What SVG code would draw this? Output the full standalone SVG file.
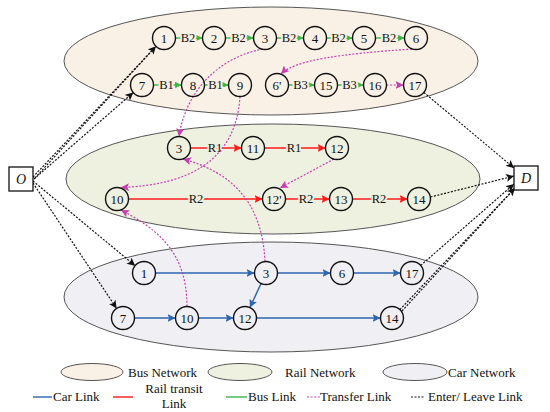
<svg xmlns="http://www.w3.org/2000/svg" width="550" height="412" viewBox="0 0 550 412">
<style>
text{font-family:"Liberation Serif","Times New Roman",serif;fill:#111}
.n circle{fill:none;stroke:#111;stroke-width:1.4}
.n text{font-size:13px;text-anchor:middle;dominant-baseline:central}
.net{stroke:#555;stroke-width:1}
.bus{fill:#FAF1E6}
.rail{fill:#EEF0E0}
.car{fill:#F0EFF3}
.lb{font-size:12.5px;text-anchor:middle;dominant-baseline:central;paint-order:stroke;stroke-width:4;fill:#111}
.lbb{stroke:#FAF1E6}
.lbr{stroke:#EEF0E0}
.g{stroke:#3DB54A;stroke-width:1.4;fill:none}
.r{stroke:#FF1A1A;stroke-width:1.4;fill:none}
.bl{stroke:#2E66B0;stroke-width:1.4;fill:none}
.t{stroke:#C63FB2;stroke-width:1.2;stroke-dasharray:2 1.6;fill:none}
.e{stroke:#111;stroke-width:1.2;stroke-dasharray:2 1.5;fill:none}
.leg{font-size:13px}
</style>
<defs>
<marker id="ag" viewBox="0 0 10 10" refX="10" refY="5" markerWidth="7" markerHeight="7" markerUnits="userSpaceOnUse" orient="auto"><path d="M0,0 L10,5 L0,10 z" fill="#3DB54A"/></marker>
<marker id="ar" viewBox="0 0 10 10" refX="10" refY="5" markerWidth="8" markerHeight="8" markerUnits="userSpaceOnUse" orient="auto"><path d="M0,0 L10,5 L0,10 L2,5 z" fill="#FF1A1A"/></marker>
<marker id="ab" viewBox="0 0 10 10" refX="10" refY="5" markerWidth="8" markerHeight="8" markerUnits="userSpaceOnUse" orient="auto"><path d="M0,0 L10,5 L0,10 L2,5 z" fill="#2E66B0"/></marker>
<marker id="at" viewBox="0 0 10 10" refX="10" refY="5" markerWidth="8" markerHeight="8" markerUnits="userSpaceOnUse" orient="auto"><path d="M0,0 L10,5 L0,10 L2,5 z" fill="#C63FB2"/></marker>
<marker id="ae" viewBox="0 0 10 10" refX="10" refY="5" markerWidth="8" markerHeight="8" markerUnits="userSpaceOnUse" orient="auto"><path d="M0,0 L10,5 L0,10 L2.5,5 z" fill="#111"/></marker>
</defs>

<g id="networks">
<ellipse class="net bus" cx="271" cy="61" rx="207" ry="54"/>
<ellipse class="net rail" cx="273" cy="179" rx="207" ry="55"/>
<ellipse class="net car" cx="271" cy="297" rx="207" ry="55"/>
</g>

<g id="connectors">
<!-- bus links -->
<line class="g" x1="175.5" y1="38" x2="202.5" y2="38" marker-end="url(#ag)"/>
<line class="g" x1="225.5" y1="38" x2="253.5" y2="38" marker-end="url(#ag)"/>
<line class="g" x1="276.5" y1="38" x2="303.5" y2="38" marker-end="url(#ag)"/>
<line class="g" x1="326.5" y1="38" x2="352.5" y2="38" marker-end="url(#ag)"/>
<line class="g" x1="375.5" y1="38" x2="404.5" y2="38" marker-end="url(#ag)"/>
<line class="g" x1="153.5" y1="85" x2="181.5" y2="85" marker-end="url(#ag)"/>
<line class="g" x1="204.5" y1="85" x2="228.5" y2="85" marker-end="url(#ag)"/>
<line class="g" x1="288.5" y1="85" x2="314.5" y2="85" marker-end="url(#ag)"/>
<line class="g" x1="337.5" y1="85" x2="363.5" y2="85" marker-end="url(#ag)"/>
<text class="lb lbb" x="188" y="38">B2</text>
<text class="lb lbb" x="238.5" y="38">B2</text>
<text class="lb lbb" x="289" y="38">B2</text>
<text class="lb lbb" x="338.5" y="38">B2</text>
<text class="lb lbb" x="389" y="38">B2</text>
<text class="lb lbb" x="166.5" y="85">B1</text>
<text class="lb lbb" x="215.5" y="85">B1</text>
<text class="lb lbb" x="300.5" y="85">B3</text>
<text class="lb lbb" x="349.5" y="85">B3</text>
<line class="t" x1="386.5" y1="85" x2="403.5" y2="85" marker-end="url(#at)"/>
<!-- rail links -->
<line class="r" x1="190.5" y1="148" x2="241.5" y2="148" marker-end="url(#ar)"/>
<line class="r" x1="264.5" y1="148" x2="325.5" y2="148" marker-end="url(#ar)"/>
<line class="r" x1="128.5" y1="199" x2="262.5" y2="199" marker-end="url(#ar)"/>
<line class="r" x1="285.5" y1="199" x2="329.5" y2="199" marker-end="url(#ar)"/>
<line class="r" x1="352.5" y1="199" x2="407.5" y2="199" marker-end="url(#ar)"/>
<text class="lb lbr" x="215" y="148">R1</text>
<text class="lb lbr" x="294" y="148">R1</text>
<text class="lb lbr" x="196" y="199">R2</text>
<text class="lb lbr" x="306" y="199">R2</text>
<text class="lb lbr" x="379" y="199">R2</text>
<!-- car links -->
<line class="bl" x1="155.5" y1="273" x2="254.5" y2="273" marker-end="url(#ab)"/>
<line class="bl" x1="277.5" y1="273" x2="330.5" y2="273" marker-end="url(#ab)"/>
<line class="bl" x1="353.5" y1="273" x2="400.5" y2="273" marker-end="url(#ab)"/>
<line class="bl" x1="134.5" y1="318" x2="175.5" y2="318" marker-end="url(#ab)"/>
<line class="bl" x1="198.5" y1="318" x2="233.5" y2="318" marker-end="url(#ab)"/>
<line class="bl" x1="256.5" y1="318" x2="380.5" y2="318" marker-end="url(#ab)"/>
<line class="bl" x1="261.1" y1="283.4" x2="249.9" y2="307.6" marker-end="url(#ab)"/>
<!-- transfer links -->
<path class="t" d="M263,49 C215,58 185,95 179,136.5" marker-end="url(#at)"/>
<path class="t" d="M412,49 C340,54 295,60 281,74" marker-end="url(#at)"/>
<path class="t" d="M240,96.5 C236,160 190,185 121,187.5" marker-end="url(#at)"/>
<path class="t" d="M265,261.5 C262,200 230,172 183,159" marker-end="url(#at)"/>
<path class="t" d="M334,159 L280,188" marker-end="url(#at)"/>
<path class="t" d="M187,306.5 C187,250 155,228 121,210" marker-end="url(#at)"/>
<!-- enter / leave links -->
<line class="e" x1="33" y1="177" x2="156" y2="46.3" marker-end="url(#ae)"/>
<line class="e" x1="35" y1="178" x2="156" y2="46.3"/>
<line class="e" x1="34" y1="179" x2="133.3" y2="92.5" marker-end="url(#ae)"/>
<line class="e" x1="33" y1="181" x2="135.1" y2="265.7" marker-end="url(#ae)"/>
<line class="e" x1="33" y1="183" x2="116.6" y2="308.4" marker-end="url(#ae)"/>
<line class="e" x1="423.8" y1="92.4" x2="514" y2="168" marker-end="url(#ae)"/>
<line class="e" x1="430.5" y1="197" x2="514" y2="176" marker-end="url(#ae)"/>
<line class="e" x1="420.7" y1="265.4" x2="514" y2="184" marker-end="url(#ae)"/>
<line class="e" x1="399.9" y1="309.6" x2="515" y2="188" marker-end="url(#ae)"/>
<line class="e" x1="402" y1="311" x2="515" y2="188"/>
</g>

<g id="O"><rect x="9" y="167" width="24" height="24" fill="#fff" stroke="#111" stroke-width="1.3"/><text x="21" y="179" font-size="14" font-style="italic" text-anchor="middle" dominant-baseline="central">O</text></g>
<g id="D"><rect x="514" y="166" width="24" height="24" fill="#fff" stroke="#111" stroke-width="1.3"/><text x="526" y="178" font-size="14" font-style="italic" text-anchor="middle" dominant-baseline="central">D</text></g>

<g id="bus1" class="n"><circle cx="164" cy="38" r="11.5"/><text x="164" y="38">1</text></g>
<g id="bus2" class="n"><circle cx="214" cy="38" r="11.5"/><text x="214" y="38">2</text></g>
<g id="bus3" class="n"><circle cx="265" cy="38" r="11.5"/><text x="265" y="38">3</text></g>
<g id="bus4" class="n"><circle cx="315" cy="38" r="11.5"/><text x="315" y="38">4</text></g>
<g id="bus5" class="n"><circle cx="364" cy="38" r="11.5"/><text x="364" y="38">5</text></g>
<g id="bus6" class="n"><circle cx="416" cy="38" r="11.5"/><text x="416" y="38">6</text></g>
<g id="bus7" class="n"><circle cx="142" cy="85" r="11.5"/><text x="142" y="85">7</text></g>
<g id="bus8" class="n"><circle cx="193" cy="85" r="11.5"/><text x="193" y="85">8</text></g>
<g id="bus9" class="n"><circle cx="240" cy="85" r="11.5"/><text x="240" y="85">9</text></g>
<g id="bus6p" class="n"><circle cx="277" cy="85" r="11.5"/><text x="277" y="85">6'</text></g>
<g id="bus15" class="n"><circle cx="326" cy="85" r="11.5"/><text x="326" y="85">15</text></g>
<g id="bus16" class="n"><circle cx="375" cy="85" r="11.5"/><text x="375" y="85">16</text></g>
<g id="bus17" class="n"><circle cx="415" cy="85" r="11.5"/><text x="415" y="85">17</text></g>

<g id="rail3" class="n"><circle cx="179" cy="148" r="11.5"/><text x="179" y="148">3</text></g>
<g id="rail11" class="n"><circle cx="253" cy="148" r="11.5"/><text x="253" y="148">11</text></g>
<g id="rail12" class="n"><circle cx="337" cy="148" r="11.5"/><text x="337" y="148">12</text></g>
<g id="rail10" class="n"><circle cx="117" cy="199" r="11.5"/><text x="117" y="199">10</text></g>
<g id="rail12p" class="n"><circle cx="274" cy="199" r="11.5"/><text x="274" y="199">12'</text></g>
<g id="rail13" class="n"><circle cx="341" cy="199" r="11.5"/><text x="341" y="199">13</text></g>
<g id="rail14" class="n"><circle cx="419" cy="199" r="11.5"/><text x="419" y="199">14</text></g>

<g id="car1" class="n"><circle cx="144" cy="273" r="11.5"/><text x="144" y="273">1</text></g>
<g id="car3" class="n"><circle cx="266" cy="273" r="11.5"/><text x="266" y="273">3</text></g>
<g id="car6" class="n"><circle cx="342" cy="273" r="11.5"/><text x="342" y="273">6</text></g>
<g id="car17" class="n"><circle cx="412" cy="273" r="11.5"/><text x="412" y="273">17</text></g>
<g id="car7" class="n"><circle cx="123" cy="318" r="11.5"/><text x="123" y="318">7</text></g>
<g id="car10" class="n"><circle cx="187" cy="318" r="11.5"/><text x="187" y="318">10</text></g>
<g id="car12" class="n"><circle cx="245" cy="318" r="11.5"/><text x="245" y="318">12</text></g>
<g id="car14" class="n"><circle cx="392" cy="318" r="11.5"/><text x="392" y="318">14</text></g>

<g id="legend">
<ellipse class="net bus" cx="92" cy="372" rx="31" ry="8.5"/>
<text class="leg" x="128" y="377">Bus Network</text>
<ellipse class="net rail" cx="240" cy="372" rx="32" ry="8.5"/>
<text class="leg" x="285" y="377">Rail Network</text>
<ellipse class="net car" cx="415" cy="372" rx="32" ry="8.5"/>
<text class="leg" x="448" y="377">Car Network</text>
<line class="bl" x1="33" y1="397" x2="52" y2="397"/>
<text class="leg" x="53" y="401">Car Link</text>
<line class="r" x1="113" y1="397" x2="133" y2="397"/>
<text class="leg" x="174" y="393" text-anchor="middle">Rail transit</text>
<text class="leg" x="174" y="408" text-anchor="middle">Link</text>
<line class="g" x1="226" y1="397" x2="247" y2="397"/>
<text class="leg" x="248" y="401">Bus Link</text>
<line class="t" x1="307" y1="397" x2="320" y2="397"/>
<text class="leg" x="320" y="401">Transfer Link</text>
<line class="e" x1="411" y1="397" x2="425" y2="397"/>
<text class="leg" x="428" y="401">Enter/ Leave Link</text>
</g>
</svg>
